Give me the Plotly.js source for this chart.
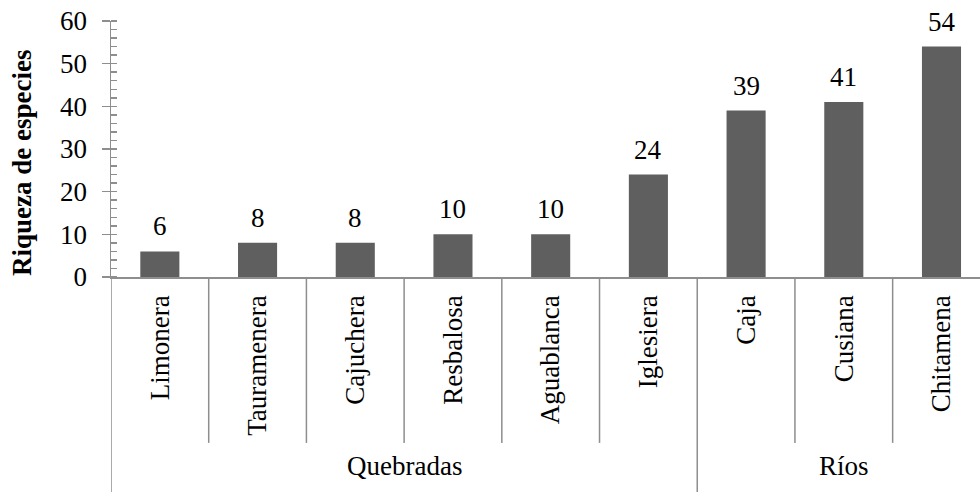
<!DOCTYPE html>
<html>
<head>
<meta charset="utf-8">
<script src="https://cdn.plot.ly/plotly-3.0.1.min.js"></script>
<style>html,body{margin:0;padding:0;background:#fff;}#chart{width:980px;height:492px;}</style>
</head>
<body>
<div id="chart"></div>
<script>
var categories = ["Limonera", "Tauramenera", "Cajuchera", "Resbalosa", "Aguablanca", "Iglesiera", "Caja", "Cusiana", "Chitamena"];
var values = [6, 8, 8, 10, 10, 24, 39, 41, 54];
var groups = ["Quebradas", "Ríos"];
var groupSizes = [6, 3];
var yTicks = [0, 10, 20, 30, 40, 50, 60];

var FONT = "Liberation Serif";
var GRAY = "#8e8e8e";
var BAR = "#5f5f5f";
var FS = 27;

var traces = [{
  type: "bar",
  x: categories,
  y: values,
  width: 0.4,
  marker: {color: BAR, line: {width: 0}},
  hoverinfo: "skip",
  xaxis: "x", yaxis: "y"
}, {
  type: "scatter",
  mode: "markers",
  x: categories,
  y: values.map(function(){return null;}),
  showlegend: false,
  hoverinfo: "skip",
  xaxis: "x", yaxis: "y2"
}];

var annotations = [];
categories.forEach(function(c, i){
  annotations.push({
    x: c, y: values[i], xref: "x", yref: "y",
    text: String(values[i]), showarrow: false,
    yanchor: "bottom", yshift: 8,
    font: {family: FONT, size: FS, color: "#000"}
  });
});

var shapes = [];
var start = 0;
var boundaries = [];
groupSizes.forEach(function(n){ start += n; boundaries.push(start - 0.5); });
for (var i = 0; i < categories.length; i++) {
  var xb = i - 0.5;
  var isGroup = (i === 0) || boundaries.indexOf(xb) >= 0;
  shapes.push({
    type: "line", xref: "x", yref: "paper",
    x0: xb, x1: xb, y0: 0, y1: isGroup ? -0.86 : -0.648,
    line: {color: GRAY, width: 1.5}
  });
}
var s = -0.5;
groups.forEach(function(g, k){
  var e = s + groupSizes[k];
  annotations.push({
    x: (s + e) / 2, y: -0.738, xref: "x", yref: "paper",
    text: g, showarrow: false, yanchor: "middle",
    font: {family: FONT, size: FS, color: "#000"}
  });
  s = e;
});
annotations.push({
  x: 0, xref: "paper", xshift: -89, y: 0.445, yref: "paper",
  text: "<b>Riqueza de especies</b>", showarrow: false, textangle: -90,
  xanchor: "center", yanchor: "middle",
  font: {family: FONT, size: FS, color: "#000"}
});

var layout = {
  width: 980, height: 492,
  margin: {l: 111, r: 0, t: 21, b: 215, pad: 0},
  paper_bgcolor: "#fff", plot_bgcolor: "#fff",
  showlegend: false,
  bargap: 0.6,
  font: {family: FONT, size: FS, color: "#000"},
  xaxis: {
    type: "category",
    categoryorder: "array", categoryarray: categories,
    range: [-0.5, 8.394],
    showline: true, linecolor: GRAY, linewidth: 1.5,
    ticks: "", tickangle: -90,
    ticklabelstandoff: 6,
    tickfont: {family: FONT, size: FS, color: "#000"},
    showgrid: false, zeroline: false, fixedrange: true
  },
  yaxis: {
    range: [0, 60],
    tickvals: yTicks, ticktext: yTicks.map(String),
    ticks: "outside", ticklen: 8, tickwidth: 1.5, tickcolor: GRAY,
    minor: {dtick: 2, ticks: "inside", ticklen: 6, tickwidth: 1.5, tickcolor: GRAY, showgrid: false},
    showline: true, linecolor: GRAY, linewidth: 1.5,
    ticklabelstandoff: 9,
    tickfont: {family: FONT, size: FS, color: "#000"},
    showgrid: false, zeroline: false, fixedrange: true
  },
  yaxis2: {
    overlaying: "y", matches: "y", range: [0, 60],
    tickvals: yTicks,
    ticks: "inside", ticklen: 6, tickwidth: 1.5, tickcolor: GRAY,
    showticklabels: false, showline: false, showgrid: false, zeroline: false,
    fixedrange: true
  },
  annotations: annotations,
  shapes: shapes
};

Plotly.newPlot("chart", traces, layout, {displayModeBar: false, staticPlot: true});
</script>
</body>
</html>
